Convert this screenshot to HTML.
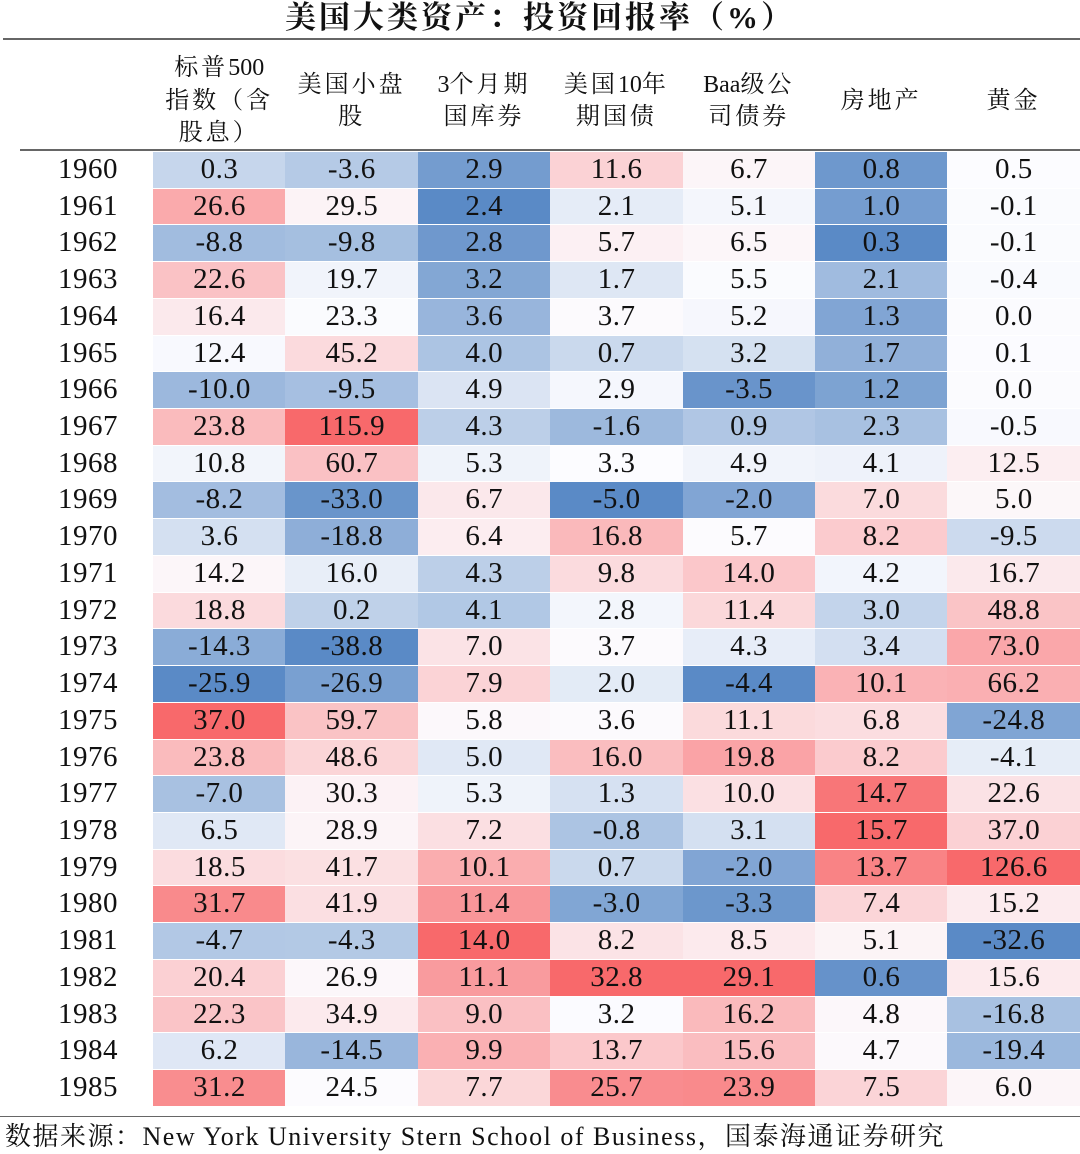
<!DOCTYPE html>
<html><head><meta charset="utf-8">
<style>
body{margin:0;width:1080px;height:1154px;background:#fff;position:relative;overflow:hidden;font-family:"Liberation Serif","Noto Serif CJK SC",serif;color:#111}
.abs{position:absolute}
.title{left:0;width:1080px;top:0;text-align:center;font-size:31px;font-weight:bold;line-height:36px;letter-spacing:3px}
.hline{height:2px;background:#666}
.hd{font-size:24px;line-height:32.5px;text-align:center;display:flex;flex-direction:column;justify-content:center;letter-spacing:3px}
.hd b{font-weight:normal;letter-spacing:0}
.cell{font-size:29px;text-align:center;line-height:35px;letter-spacing:0.5px}
.yr{font-size:29px;text-align:center;line-height:35px;letter-spacing:0.5px}
.foot{left:5px;top:1121px;font-size:26px;line-height:32px;white-space:nowrap;letter-spacing:1.5px}
</style></head><body>
<div class="abs title">美国大类资产：投资回报率（%）</div>
<div class="abs hline" style="left:3px;top:38px;width:1077px"></div>
<div class="abs hline" style="left:20px;top:149px;width:1060px"></div>
<div class="abs hline" style="left:0;top:1116px;width:1080px;height:1px"></div>
<div id="tbl"></div>
<div class="abs foot">数据来源：New York University Stern School of Business，国泰海通证券研究</div>
<script>
const years=[1960,1961,1962,1963,1964,1965,1966,1967,1968,1969,1970,1971,1972,1973,1974,1975,1976,1977,1978,1979,1980,1981,1982,1983,1984,1985];
const headers=[["标普<b>500</b>","指数（含","股息）"],["美国小盘","股"],["<b>3</b>个月期","国库券"],["美国<b>10</b>年","期国债"],["<b>Baa</b>级公","司债券"],["房地产"],["黄金"]];
const sp500=[0.3,26.6,-8.8,22.6,16.4,12.4,-10.0,23.8,10.8,-8.2,3.6,14.2,18.8,-14.3,-25.9,37.0,23.8,-7.0,6.5,18.5,31.7,-4.7,20.4,22.3,6.2,31.2];
const smallCap=[-3.6,29.5,-9.8,19.7,23.3,45.2,-9.5,115.9,60.7,-33.0,-18.8,16.0,0.2,-38.8,-26.9,59.7,48.6,30.3,28.9,41.7,41.9,-4.3,26.9,34.9,-14.5,24.5];
const tbill=[2.9,2.4,2.8,3.2,3.6,4.0,4.9,4.3,5.3,6.7,6.4,4.3,4.1,7.0,7.9,5.8,5.0,5.3,7.2,10.1,11.4,14.0,11.1,9.0,9.9,7.7];
const tbond10=[11.6,2.1,5.7,1.7,3.7,0.7,2.9,-1.6,3.3,-5.0,16.8,9.8,2.8,3.7,2.0,3.6,16.0,1.3,-0.8,0.7,-3.0,8.2,32.8,3.2,13.7,25.7];
const baa=[6.7,5.1,6.5,5.5,5.2,3.2,-3.5,0.9,4.9,-2.0,5.7,14.0,11.4,4.3,-4.4,11.1,19.8,10.0,3.1,-2.0,-3.3,8.5,29.1,16.2,15.6,23.9];
const realEstate=[0.8,1.0,0.3,2.1,1.3,1.7,1.2,2.3,4.1,7.0,8.2,4.2,3.0,3.4,10.1,6.8,8.2,14.7,15.7,13.7,7.4,5.1,0.6,4.8,4.7,7.5];
const gold=[0.5,-0.1,-0.1,-0.4,0.0,0.1,0.0,-0.5,12.5,5.0,-9.5,16.7,48.8,73.0,66.2,-24.8,-4.1,22.6,37.0,126.6,15.2,-32.6,15.6,-16.8,-19.4,6.0];
const series=[sp500,smallCap,tbill,tbond10,baa,realEstate,gold];
const colNames=['sp500','small-cap','tbill-3m','treasury-10y','baa-bond','real-estate','gold'];

const X0=153,CW=132.4,Y0=152,RH=36.72;
const colX=i=>X0+i*CW;
const rowY=i=>Y0+i*RH;
const lo=[90,138,198],mid=[252,252,255],hi=[248,105,107];
function mix(a,b,t){return 'rgb('+a.map((v,k)=>Math.round(v+(b[k]-v)*t)).join(',')+')';}
function colorScale(arr){
  const s=[...arr].sort((a,b)=>a-b);const n=s.length;
  const med=n%2?s[(n-1)/2]:(s[n/2-1]+s[n/2])/2;const mn=s[0],mx=s[n-1];
  return v=>v>=med?mix(mid,hi,(v-med)/(mx-med||1)):mix(mid,lo,(med-v)/(med-mn||1));
}
const tbl=document.getElementById('tbl');
headers.forEach((h,i)=>{
  const d=document.createElement('div');
  d.className='abs hd';
  d.style.left=colX(i)+'px';d.style.width=CW+'px';d.style.top='52px';d.style.height='98px';
  d.innerHTML=h.map(t=>'<span>'+t+'</span>').join('');
  
  
  tbl.appendChild(d);
});
years.forEach((y,r)=>{
  const d=document.createElement('div');
  d.className='abs yr';
  d.style.left='20px';d.style.width='136px';d.style.top=rowY(r)+'px';d.style.height=(RH-1)+'px';d.style.lineHeight=(RH-1)+'px';
  d.textContent=y;
  
  
  tbl.appendChild(d);
});
series.forEach((arr,c)=>{
  const sc=colorScale(arr);
  arr.forEach((v,r)=>{
    const d=document.createElement('div');
    d.className='abs cell';
    d.style.left=colX(c)+'px';d.style.width=(CW+0.5)+'px';
    d.style.top=rowY(r)+'px';d.style.height=(RH-1)+'px';d.style.lineHeight=(RH-1)+'px';
    d.style.background=sc(v);
    d.textContent=v.toFixed(1);
    
    
    tbl.appendChild(d);
  });
});
</script>
</body></html>
